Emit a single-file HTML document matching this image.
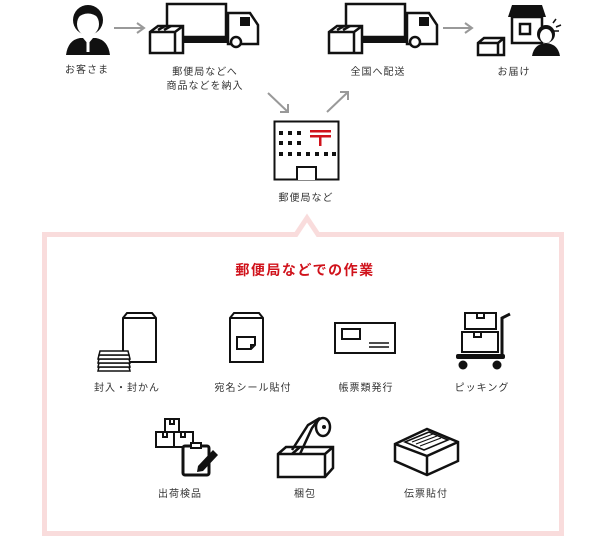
<!DOCTYPE html>
<html><head><meta charset="utf-8"><style>
html,body{margin:0;padding:0;background:#fff;}
svg{display:block;}
text{font-family:"Liberation Sans","Noto Sans CJK JP",sans-serif;font-size:10px;fill:#333;text-anchor:middle;letter-spacing:1px;}
</style></head><body>
<svg width="606" height="536" viewBox="0 0 606 536" xmlns="http://www.w3.org/2000/svg">
<!-- pink box with notch -->
<path d="M44.5 234.5 H296 L307 218 L318 234.5 H561.5 V533.5 H44.5 Z" fill="none" stroke="#f9dcdc" stroke-width="5"/>

<!-- person -->
<g>
<path d="M66 55 Q68 40 80 38 L96 38 Q108 40 110 55 Z" fill="#111"/>
<path d="M83 38 L88 44 L93 38 Z" fill="#fff"/>
<rect x="86.5" y="42" width="3" height="10" fill="#fff"/>
<circle cx="88" cy="20" r="15" fill="#111"/>
<ellipse cx="88" cy="24" rx="11" ry="12" fill="#fff"/>
<path d="M77 18 Q88 9 99 18 L99 13 Q88 4 77 13Z" fill="#111"/>
</g>
<text x="87" y="73">お客さま</text>
<line x1="114" y1="28" x2="143" y2="28" stroke="#999" stroke-width="2"/>
<path d="M137 23 L144 28 L137 33" fill="none" stroke="#999" stroke-width="2"/>

<!-- truck 1 -->
<g fill="none" stroke="#111" stroke-width="2.5">
<rect x="167" y="4" width="59" height="33"/>
<path d="M228 13 H250 L258 25 V44 H228 Z"/>
<circle cx="236" cy="42" r="5" fill="#fff"/>
<path d="M150 32 L158 26 H183 L183 53 H150 Z M150 32 H175 V53 M175 32 L183 26" fill="#fff"/>
<path d="M158 30 L165 26 M164 30 L171 26"/>
</g>
<rect x="183" y="37" width="45" height="6" fill="#111"/>
<rect x="240" y="17" width="10" height="9" fill="#111"/>
<text x="205" y="75">郵便局などへ</text>
<text x="205" y="89">商品などを納入</text>

<!-- truck 2 -->
<g fill="none" stroke="#111" stroke-width="2.5">
<rect x="346" y="4" width="59" height="33"/>
<path d="M407 13 H429 L437 25 V44 H407 Z"/>
<circle cx="415" cy="42" r="5" fill="#fff"/>
<path d="M329 32 L337 26 H362 L362 53 H329 Z M329 32 H354 V53 M354 32 L362 26" fill="#fff"/>
<path d="M337 30 L344 26 M343 30 L350 26"/>
</g>
<rect x="362" y="37" width="45" height="6" fill="#111"/>
<rect x="419" y="17" width="10" height="9" fill="#111"/>
<text x="378" y="75">全国へ配送</text>
<line x1="443" y1="28" x2="471" y2="28" stroke="#999" stroke-width="2"/>
<path d="M465 23 L472 28 L465 33" fill="none" stroke="#999" stroke-width="2"/>

<!-- delivery -->
<g fill="none" stroke="#111" stroke-width="2.5">
<rect x="512" y="17" width="30" height="26"/>
<rect x="520" y="24" width="10" height="10"/>
<path d="M478 43 L484 38 H504 V55 H478 Z M478 43 H498 V55 M498 43 L504 38" fill="#fff"/>
</g>
<path d="M508 17 L512 5 H542 L546 17 Z" fill="#111"/>
<path d="M532 56 Q534 44 546 43 Q558 44 560 56 Z" fill="#111"/>
<circle cx="546" cy="34" r="9" fill="#111"/>
<ellipse cx="546" cy="36" rx="6" ry="7" fill="#fff"/>
<path d="M553 23 L556 19 M556 27 L561 25 M554 31 L559 31" stroke="#111" stroke-width="1.5"/>
<text x="514" y="75">お届け</text>

<!-- diagonal arrows -->
<g stroke="#999" stroke-width="2" fill="none">
<line x1="268" y1="93" x2="288" y2="112"/><path d="M288 104 L288 112 L280 112"/>
<line x1="327" y1="112" x2="348" y2="92"/><path d="M340 92 L348 92 L348 100"/>
</g>

<!-- post office -->
<g>
<rect x="274.5" y="121.5" width="64" height="58" fill="none" stroke="#111" stroke-width="2"/>
<path d="M297 180 V167 H316 V180" fill="#fff" stroke="#111" stroke-width="2"/>
<g fill="#111">
<rect x="279" y="131" width="4" height="4"/><rect x="288" y="131" width="4" height="4"/><rect x="297" y="131" width="4" height="4"/>
<rect x="279" y="141" width="4" height="4"/><rect x="288" y="141" width="4" height="4"/><rect x="297" y="141" width="4" height="4"/>
<rect x="279" y="152" width="4" height="4"/><rect x="288" y="152" width="4" height="4"/><rect x="297" y="152" width="4" height="4"/>
<rect x="306" y="152" width="4" height="4"/><rect x="315" y="152" width="4" height="4"/><rect x="324" y="152" width="4" height="4"/><rect x="332" y="152" width="4" height="4"/>
</g>
<g fill="#d0121b"><rect x="310" y="130" width="21" height="2.5"/><rect x="310" y="135" width="21" height="2.5"/><rect x="319" y="135" width="2.5" height="11"/></g>
</g>
<text x="306" y="201">郵便局など</text>

<text x="305" y="275" style="font-size:14px;font-weight:bold;fill:#d0121b;letter-spacing:1.5px">郵便局などでの作業</text>

<!-- envelope 1 -->
<g fill="none" stroke="#111" stroke-width="2">
<path d="M123 362 V318 L127 313 H152 L156 318 V362 Z M123 318 H156"/>
</g>
<g stroke="#111" stroke-width="1.5" fill="#fff">
<path d="M98 371 L130 371 L129 367 L99 367 Z"/><path d="M98 367 L130 367 L129 363 L99 363 Z"/><path d="M98 363 L130 363 L129 359 L99 359 Z"/><path d="M98 359 L130 359 L129 355 L99 355 Z"/><path d="M99 355 L129 355 L128 351 L100 351 Z"/>
</g>
<text x="127" y="391">封入・封かん</text>

<!-- envelope 2 -->
<g fill="none" stroke="#111" stroke-width="2">
<path d="M230 362 V318 L234 313 H259 L263 318 V362 Z M230 318 H263"/>
<path d="M237 337 H255 V345 L251 349 H237 Z M251 349 V345 H255"/>
</g>
<text x="253" y="391">宛名シール貼付</text>

<!-- ticket -->
<g fill="none" stroke="#111" stroke-width="2">
<rect x="335" y="323" width="60" height="30"/>
<rect x="342" y="329" width="18" height="10"/>
<path d="M369 343 H389 M369 347 H389" stroke-width="1.5"/>
</g>
<text x="366" y="391">帳票類発行</text>

<!-- cart -->
<g fill="none" stroke="#111" stroke-width="2">
<rect x="465" y="313" width="31" height="16"/><path d="M477 313 V318 H484 V313"/>
<rect x="462" y="332" width="36" height="20"/><path d="M474 332 V337 H481 V332"/>
<path d="M502 355 V318 L510 314" stroke-width="3"/>
</g>
<rect x="456" y="354" width="49" height="5" rx="2" fill="#111"/>
<circle cx="463" cy="365" r="4.5" fill="#111"/><circle cx="497" cy="365" r="4.5" fill="#111"/>
<text x="482" y="391">ピッキング</text>

<!-- checklist -->
<g fill="none" stroke="#111" stroke-width="2">
<rect x="165" y="419" width="14" height="13"/><path d="M170 419 V424 H174 V419"/>
<rect x="156" y="432" width="18" height="15"/><rect x="174" y="432" width="19" height="15"/>
<path d="M163 432 V437 H167 V432 M181 432 V437 H185 V432"/>
</g>
<rect x="183" y="446" width="26" height="29" rx="2" fill="#fff" stroke="#111" stroke-width="3"/>
<rect x="191" y="443" width="10" height="5" fill="#fff" stroke="#111" stroke-width="2"/>
<path d="M198 466 L213 450 L218 455 L203 471 L197 472 Z" fill="#111"/>
<text x="180" y="497">出荷検品</text>

<!-- tape box -->
<g fill="none" stroke="#111" stroke-width="2.5">
<path d="M278 454 L286 447 H333 V468 L325 477 H278 Z M278 454 H325 V477 M325 454 L333 447"/>
<path d="M292 454 L300 447 M300 454 L312 428 L318 420"/>
<ellipse cx="323" cy="427" rx="7" ry="9" fill="#fff"/>
<path d="M292 450 L308 425 L320 418"/>
</g>
<circle cx="324" cy="427" r="2" fill="#111"/>
<text x="305" y="497">梱包</text>

<!-- box with label -->
<g fill="none" stroke="#111" stroke-width="2.5">
<path d="M395 444 L427 429 L458 442 L458 461 L427 475 L395 461 Z"/>
<path d="M395 444 L427 456 L458 442 M427 456 V475"/>
<path d="M405 442 L429 432 L448 440 L424 450 Z" stroke-width="1.5"/>
<path d="M412 442 L433 434 M416 444 L437 436 M420 446 L441 438" stroke-width="1.2"/>
</g>
<text x="426" y="497">伝票貼付</text>
</svg>
</body></html>
